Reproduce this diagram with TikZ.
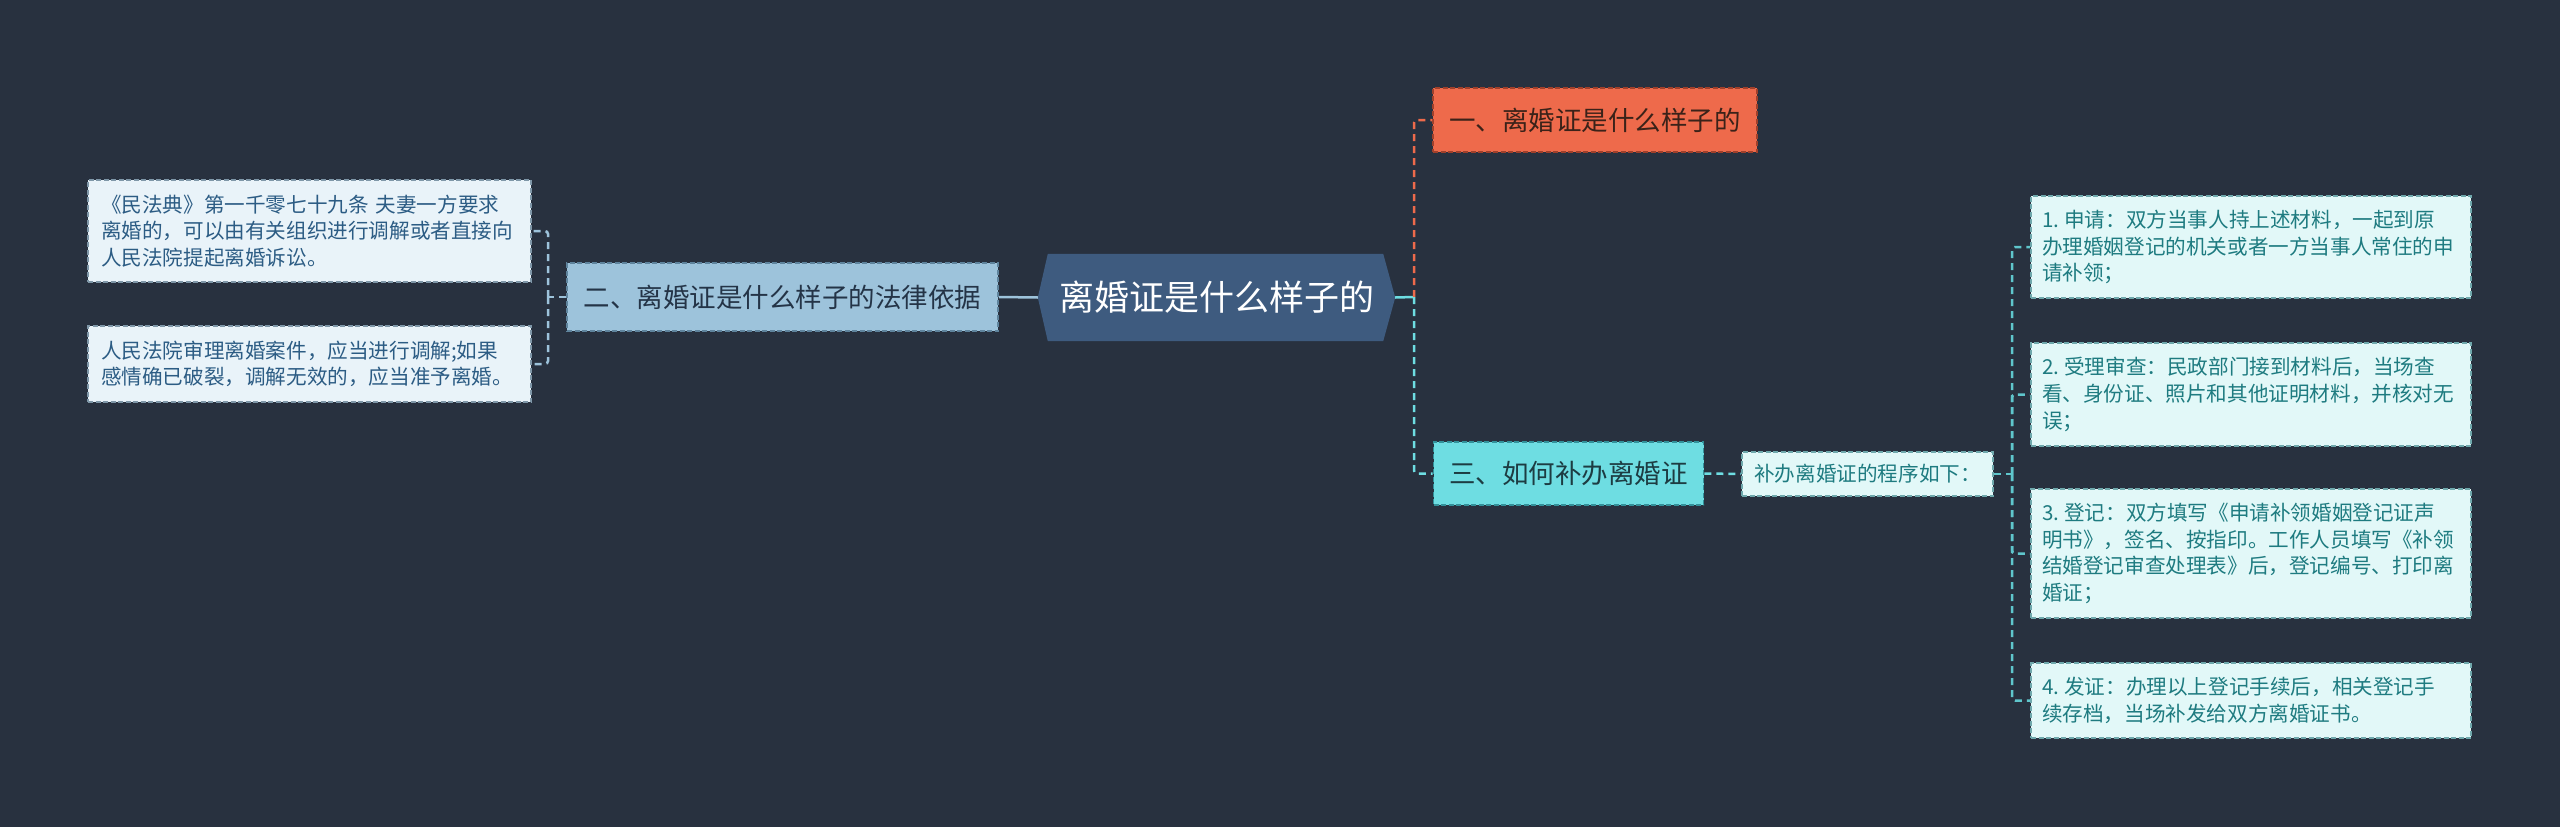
\documentclass[tikz,border=0pt]{standalone}
\usepackage{fontspec}
\setmainfont{Noto Sans CJK SC}
\usetikzlibrary{calc}
\pgfdeclarelayer{background}
\pgfsetlayers{background,main}
\definecolor{bgc}{HTML}{28313F}
\definecolor{cfill}{HTML}{3E5B7F}
\definecolor{bluef}{HTML}{9DC3DB}
\definecolor{blueb}{HTML}{5F849D}
\definecolor{bluet}{HTML}{243447}
\definecolor{orf}{HTML}{EE6A4B}
\definecolor{orb}{HTML}{A0402B}
\definecolor{ort}{HTML}{3B2219}
\definecolor{cyf}{HTML}{6EDDE2}
\definecolor{cyb}{HTML}{33919A}
\definecolor{cyt}{HTML}{1D3C42}
\definecolor{lfill}{HTML}{E9F3F9}
\definecolor{lbord}{HTML}{7F97A8}
\definecolor{ltext}{HTML}{2C5C84}
\definecolor{rfill}{HTML}{E2F8F8}
\definecolor{rbord}{HTML}{6FA8AC}
\definecolor{rtext}{HTML}{1E7B80}
\definecolor{rconn}{HTML}{5FC6CC}
\tikzset{
  boxbase/.style={draw, line width=1.6pt, dash pattern=on 5pt off 2.5pt, inner sep=0pt},
  central/.style={inner sep=0pt, text=white, font=\fontsize{35}{40}\selectfont},
  lvlblue/.style={boxbase, fill=bluef, draw=blueb, text=bluet, font=\fontsize{26.5}{32}\selectfont},
  lvlor/.style={boxbase, fill=orf, draw=orb, text=ort, font=\fontsize{26.5}{32}\selectfont},
  lvlcy/.style={boxbase, fill=cyf, draw=cyb, text=cyt, font=\fontsize{26.5}{32}\selectfont},
  subcy/.style={boxbase, fill=rfill, draw=rbord, text=rtext, font=\fontsize{20.6}{26.7}\selectfont},
  leafl/.style={boxbase, fill=lfill, draw=lbord, text=ltext, align=left, text width=417pt, font=\fontsize{20.6}{26.7}\selectfont},
  leafr/.style={boxbase, fill=rfill, draw=rbord, text=rtext, align=left, text width=418pt, font=\fontsize{20.6}{26.7}\selectfont},
  conn/.style={line width=2.5pt},
  dconn/.style={line width=2.5pt, dash pattern=on 7pt off 5pt, rounded corners=3pt},
}
\newcommand{\nsp}{\hspace{0.25em}}
\begin{document}
\begin{tikzpicture}[x=1pt, y=-1pt]
\begin{pgfonlayer}{background}
\fill[bgc] (0,0) rectangle (2560,827);
\end{pgfonlayer}
\useasboundingbox (0,0) rectangle (2560,827);

% central
\node[central, minimum width=357pt, minimum height=87pt] (c) at (1216.5,297.5) {离婚证是什么样子的};
\begin{pgfonlayer}{background}
\fill[cfill] ([xshift=10pt]c.north west) -- ([xshift=-12pt]c.north east) -- (c.east)
  -- ([xshift=-12pt]c.south east) -- ([xshift=10pt]c.south west) -- (c.west) -- cycle;
\end{pgfonlayer}

% level 1
\node[lvlblue, minimum width=431pt, minimum height=68pt] (n2) at (782.5,297) {二、离婚证是什么样子的法律依据};
\node[lvlor, minimum width=324pt, minimum height=64pt] (n1) at (1595,120) {一、离婚证是什么样子的};
\node[lvlcy, minimum width=270pt, minimum height=63pt] (n3) at (1568.5,473.5) {三、如何补办离婚证};
\node[subcy, minimum width=251pt, minimum height=44pt] (s) at (1867.5,474) {补办离婚证的程序如下：};

% left leaves
\node[leafl, minimum width=443pt, minimum height=102pt] (l1) at (309.5,231) {《民法典》第一千零七十九条 夫妻一方要求\\离婚的，可以由有关组织进行调解或者直接向\\人民法院提起离婚诉讼。};
\node[leafl, minimum width=443pt, minimum height=76pt] (l2) at (309.5,364) {人民法院审理离婚案件，应当进行调解;如果\\感情确已破裂，调解无效的，应当准予离婚。};

% right leaves
\node[leafr, minimum width=440pt, minimum height=102pt] (r1) at (2251,247) {1.\nsp 申请：双方当事人持上述材料，一起到原\\办理婚姻登记的机关或者一方当事人常住的申\\请补领；};
\node[leafr, minimum width=440pt, minimum height=103pt] (r2) at (2251,394.5) {2.\nsp 受理审查：民政部门接到材料后，当场查\\看、身份证、照片和其他证明材料，并核对无\\误；};
\node[leafr, minimum width=440pt, minimum height=129pt] (r3) at (2251,553.5) {3.\nsp 登记：双方填写《申请补领婚姻登记证声\\明书》，签名、按指印。工作人员填写《补领\\结婚登记审查处理表》后，登记编号、打印离\\婚证；};
\node[leafr, minimum width=440pt, minimum height=75pt] (r4) at (2251,700.5) {4.\nsp 发证：办理以上登记手续后，相关登记手\\续存档，当场补发给双方离婚证书。};

% connectors left
\coordinate (lb) at (548,297);
\draw[conn, bluef] (c.west) -- (n2.east);
\draw[dconn, bluef] (n2.west) -- (lb);
\draw[dconn, bluef] (lb) |- (l1.east);
\draw[dconn, bluef] (lb) |- (l2.east);

% connectors right
\coordinate (rj) at (1414,297);
\draw[conn, cyf] (c.east) -- (rj);
\draw[dconn, orf] (rj) |- (n1.west);
\draw[dconn, cyf] (rj) |- (n3.west);
\draw[dconn, cyf] (n3.east) -- (s.west);
\coordinate (rb) at (2012,474);
\draw[dconn, rconn] (s.east) -- (rb);
\draw[dconn, rconn] (rb) |- (r1.west);
\draw[dconn, rconn] (rb) |- (r2.west);
\draw[dconn, rconn] (rb) |- (r3.west);
\draw[dconn, rconn] (rb) |- (r4.west);
\end{tikzpicture}
\end{document}
